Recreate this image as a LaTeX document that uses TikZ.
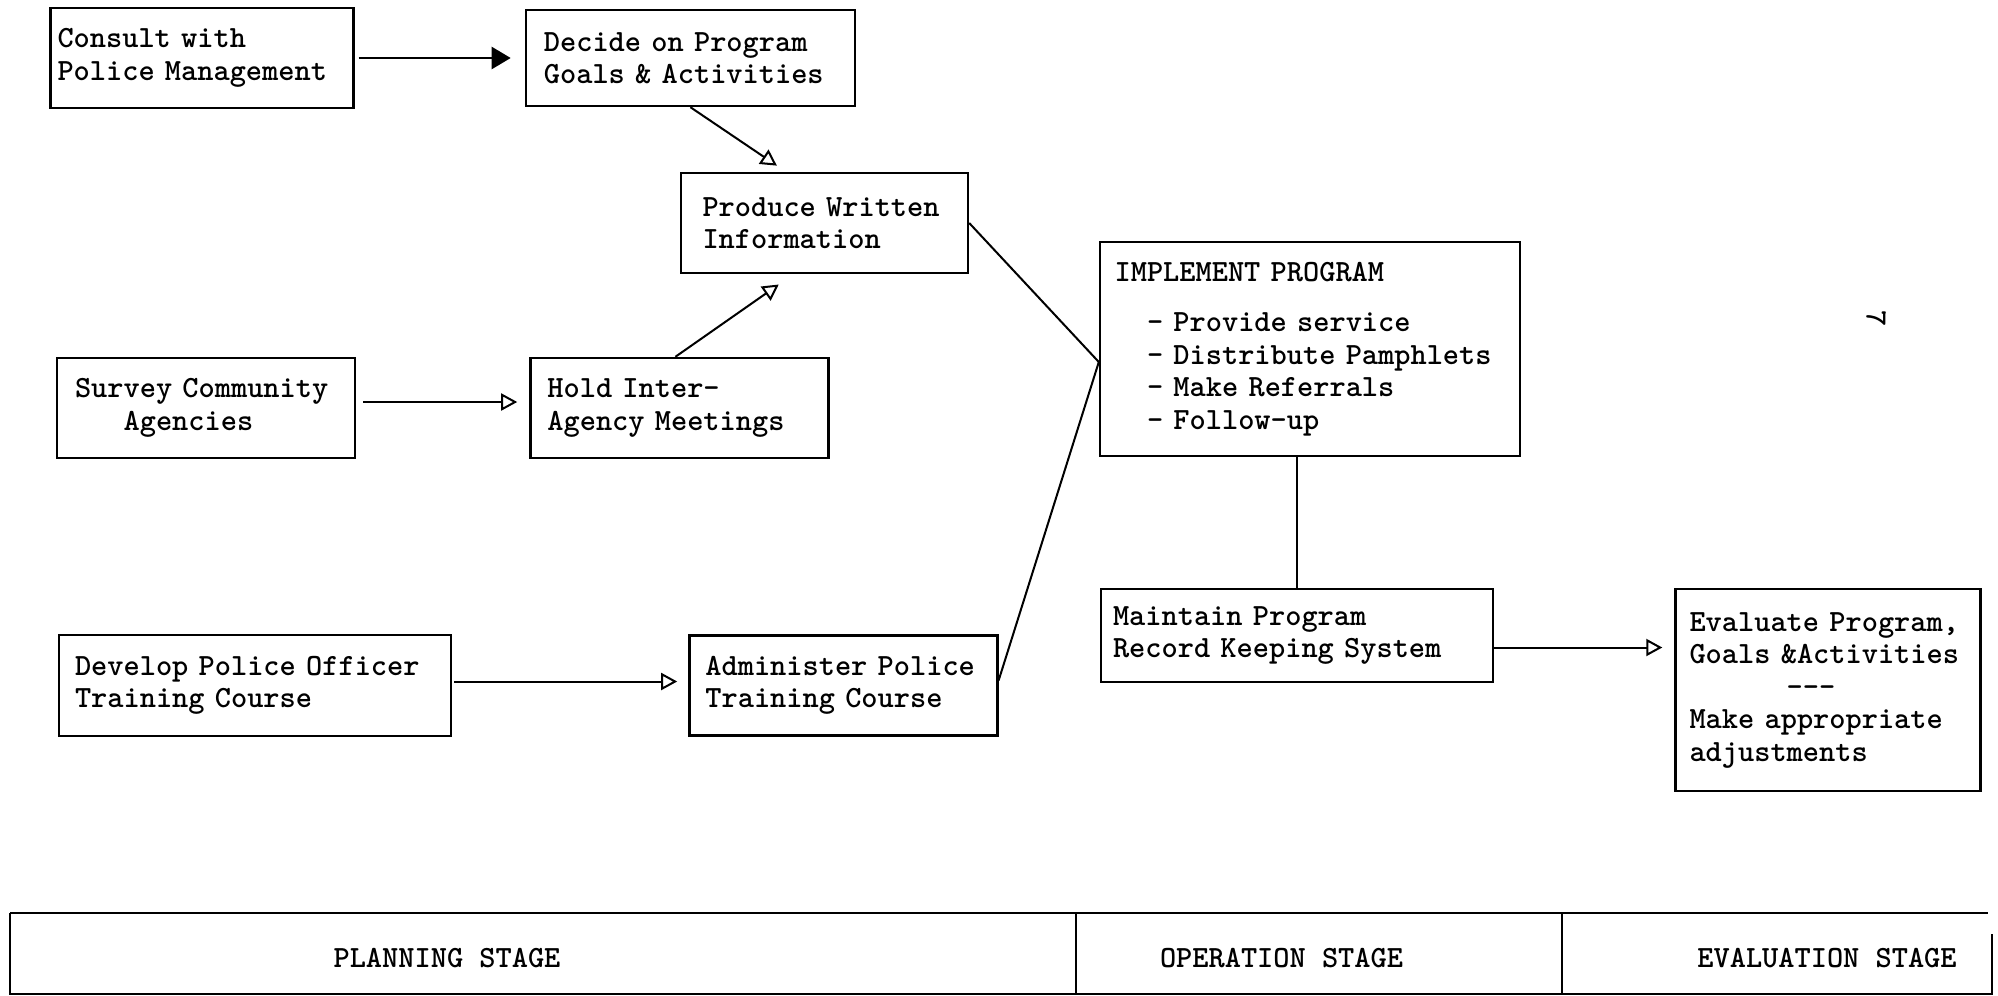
\documentclass[tikz,border=0pt]{standalone}
\usetikzlibrary{arrows.meta, positioning}
\tikzset{
    font=\ttfamily\bfseries\fontsize{15.43pt}{16.25pt}\selectfont,
    plan_box/.style={
        rectangle,
        draw=black,
        line width=1.2pt,
        align=left,
        inner ysep=3pt
    },
    flow_arrow/.style={
        -{Triangle[open, length=8pt, width=8.5pt]},
        line width=1pt,
        shorten >=5.5pt,
        shorten <=2pt
    },
    flow_solid_arrow/.style={
        -{Triangle[length=9.5pt, width=11pt]},
        line width=1.2pt,
        shorten >=7pt,
        shorten <=2pt
    },
    flow_line/.style={
        line width=1pt
    },
    thin_line/.style={
        line width=0.7pt
    },
    stage_rule/.style={
        line width=1.4pt
    },
    stage_frame/.style={
        line width=0.7pt
    }
}

\begin{document}
\begin{tikzpicture}[x=1pt, y=-1pt]
\useasboundingbox (0,0) rectangle (999,498);

% --- Planning column ---
\node[plan_box, text width=144.5pt, inner xsep=3.5pt, minimum height=50pt] (consult) at (101,29) {Consult with\\Police Management};
\node[plan_box, right=85pt of consult, text width=146.5pt, inner xsep=9pt, minimum height=48pt] (decide) {Decide on Program\\Goals \& Activities};
\node[plan_box, text width=122pt, inner xsep=10.75pt, minimum height=50pt] (produce) at (412.25,111.5) {Produce Written\\Information};

\node[plan_box, text width=131pt, inner xsep=9pt, minimum height=50pt] (survey) at (103,204) {Survey Community\\\phantom{xxx}Agencies};
\node[plan_box, right=86.5pt of survey, text width=132pt, inner xsep=8.5pt, minimum height=50pt] (hold) {Hold Inter-\\Agency Meetings};

\node[plan_box, text width=180pt, inner xsep=8pt, minimum height=50.5pt] (develop) at (127.5,342.75) {Develop Police Officer\\Training Course};
\node[plan_box, right=118pt of develop, text width=138pt, inner xsep=8pt, minimum height=50pt] (administer) {Administer Police\\Training Course};

% --- Operation column ---
\node[plan_box, text width=195.4pt, inner xsep=7.3pt, minimum height=107pt] (implement) at (655,174.5) {IMPLEMENT PROGRAM\\[8.75pt]\phantom{xx}- Provide service\\\phantom{xx}- Distribute Pamphlets\\\phantom{xx}- Make Referrals\\\phantom{xx}- Follow-up};
\node[plan_box, text width=184pt, inner xsep=6pt, minimum height=46.5pt] (maintain) at (648.5,317.75) {Maintain Program\\Record Keeping System};

% --- Evaluation column ---
\node[plan_box, text width=138.5pt, inner xsep=7pt, minimum height=101pt] (evaluate) at (914,345) {Evaluate Program,\\Goals \&Activities\\\phantom{xxxxxx}---\\Make appropriate\\adjustments};

\node[rotate=-90] (page_no) at (938,159.5) {7};

% --- Edges ---
\draw[flow_solid_arrow] (consult) -- (decide);
\draw[flow_arrow, shorten <=0pt] (decide.south) -- ([xshift=-19.25pt]produce.north);
\draw[flow_arrow, shorten <=0pt, shorten >=9pt] ([xshift=-2pt]hold.north) -- ([xshift=-15.5pt]produce.south);
\draw[flow_arrow, shorten <=3.5pt, shorten >=6pt] ([yshift=3pt]survey.east) -- ([yshift=3pt]hold.west);
\draw[flow_arrow, shorten <=1pt] ([yshift=2pt]develop.east) -- ([yshift=2pt]administer.west);

\coordinate (join) at ([yshift=-6.5pt]implement.west);
\draw[flow_line] (produce.east) -- (join);
\draw[flow_line] ([yshift=2.5pt]administer.east) -- (join);

\draw[thin_line] (implement.south -| maintain.north) -- (maintain.north);
\coordinate (record_out) at ([yshift=-6pt]maintain.east);
\draw[flow_arrow, shorten <=0pt, shorten >=6pt] (record_out) -- (record_out -| evaluate.west);

% --- Stage strip ---
\draw[stage_rule] (5,456.5) -- (994,456.5);
\draw[stage_frame] (5,456.5) -- (5,497) -- (996,497) -- (996,467);
\draw[stage_frame] (538,456.5) -- (538,497);
\draw[stage_frame] (781,456.5) -- (781,497);
\node (stage_plan) at (223.5,479) {PLANNING STAGE};
\node (stage_oper) at (640.75,479) {OPERATION STAGE};
\node (stage_eval) at (913.5,479) {EVALUATION STAGE};

\end{tikzpicture}
\end{document}
